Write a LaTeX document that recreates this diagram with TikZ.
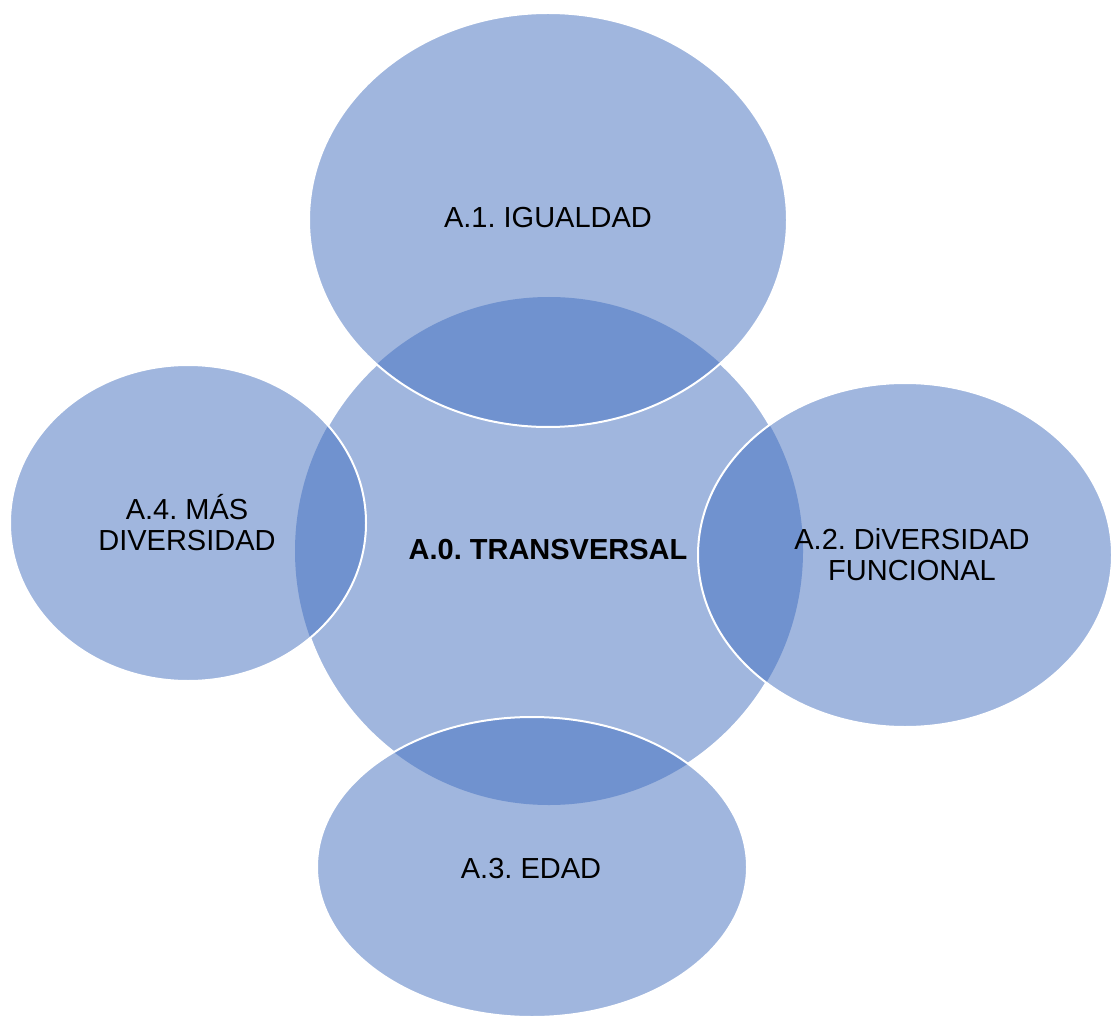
\documentclass[tikz,border=0pt]{standalone}
\usepackage{fontspec}
\setmainfont{Liberation Sans}
\frenchspacing
\definecolor{lightblue}{RGB}{160,182,222}
\definecolor{darkblue}{RGB}{112,146,207}
\tikzset{
  shapefill/.style={fill=lightblue},
  lensfill/.style={fill=darkblue},
  rim/.style={draw=white,line width=1.5pt},
  lbl/.style={font=\fontsize{21.75}{23.25}\selectfont,align=center,text=black,inner sep=0pt},
}
\begin{document}
\begin{tikzpicture}[x=0.75pt,y=-0.75pt]
\useasboundingbox (0,0) rectangle (1112,1019);
% centres
\coordinate (c0) at (549,551);
\coordinate (c1) at (548,220);
\coordinate (c2) at (905,555);
\coordinate (c3) at (532,867);
\coordinate (c4) at (188,523);
% central circle
\fill[shapefill] (c0) circle[radius=254];
\draw[rim] (c0) circle[radius=254];
% satellites
\foreach \c/\rx/\ry in {c1/239/207, c2/207/172, c3/215/150, c4/178/158}{
  \fill[shapefill] (\c) ellipse[x radius=\rx, y radius=\ry];
  \begin{scope}
    \clip (c0) circle[radius=254];
    \fill[lensfill] (\c) ellipse[x radius=\rx, y radius=\ry];
  \end{scope}
  \draw[rim] (\c) ellipse[x radius=\rx, y radius=\ry];
}
% labels
\node[lbl] (t0) at (548,550) {\textbf{A.0. TRANSVERSAL}};
\node[lbl] (t1) at (548,218) {A.1. IGUALDAD};
\node[lbl] (t2) at (912,555) {A.2. DiVERSIDAD\\FUNCIONAL};
\node[lbl] (t3) at (531,869) {A.3. EDAD};
\node[lbl] (t4) at (187,523) {A.4. MÁS\\DIVERSIDAD};
\end{tikzpicture}
\end{document}
